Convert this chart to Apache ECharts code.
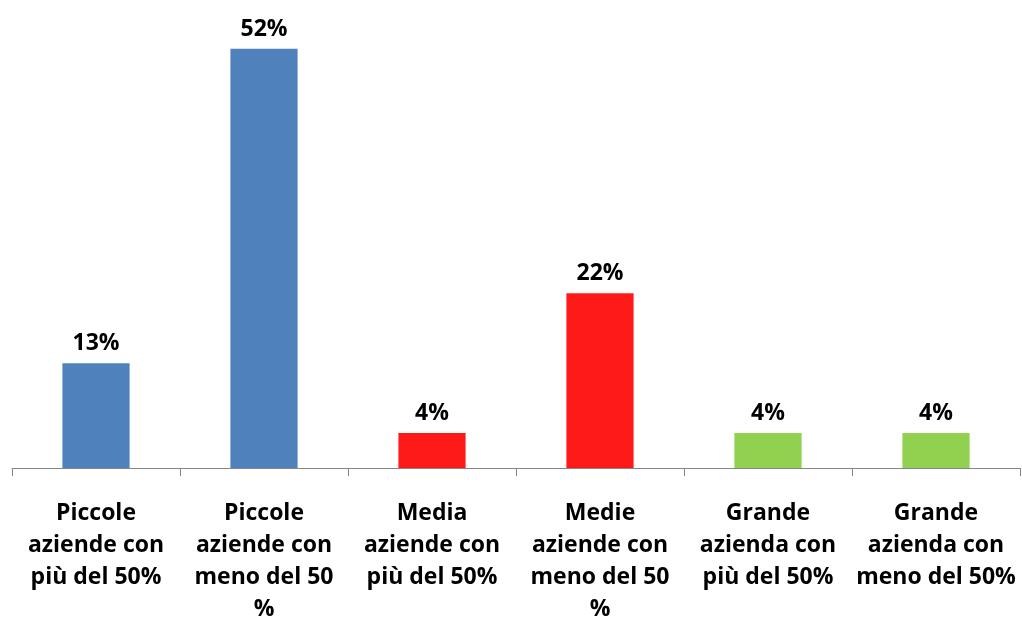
<!DOCTYPE html>
<html><head><meta charset="utf-8">
<script src="https://cdn.jsdelivr.net/npm/echarts@6/dist/echarts.min.js"></script>
<style>html,body{margin:0;padding:0;background:#fff;overflow:hidden}#c{width:1022px;height:619px}</style>
</head><body><div id="c"></div>
<script>
const categories = [
  "Piccole\naziende con\npiù del 50%",
  "Piccole\naziende con\nmeno del 50\n%",
  "Media\naziende con\npiù del 50%",
  "Medie\naziende con\nmeno del 50\n%",
  "Grande\nazienda con\npiù del 50%",
  "Grande\nazienda con\nmeno del 50%"
];
const values = [13.04, 52.17, 4.35, 21.74, 4.35, 4.35];
const colors = ["#4F81BD", "#4F81BD", "#FF1A1A", "#FF1A1A", "#92D050", "#92D050"];

const chart = echarts.init(document.getElementById('c'));
chart.setOption({
  animation: false,
  grid: {left: 12, right: 2, top: 26, bottom: 151, containLabel: false, outerBoundsMode: 'none'},
  xAxis: {
    type: 'category',
    data: categories,
    axisLine: {lineStyle: {color: '#868686', width: 1}},
    axisTick: {show: true, interval: 0, length: 8, lineStyle: {color: '#868686'}},
    axisLabel: {
      interval: 0, margin: 29, color: '#000',
      fontFamily: 'Open Sans', fontWeight: 'bold', fontSize: 23, lineHeight: 32
    }
  },
  yAxis: {type: 'value', min: 0, max: 55, show: false, splitLine: {show: false}},
  series: [{
    type: 'bar',
    barWidth: '40%',
    data: values.map((v, i) => ({value: v, itemStyle: {color: colors[i]}})),
    label: {
      show: true, position: 'top', distance: 8, color: '#000',
      fontFamily: 'Open Sans', fontWeight: 'bold', fontSize: 23,
      formatter: p => Math.round(p.value) + '%'
    }
  }]
});
</script></body></html>
